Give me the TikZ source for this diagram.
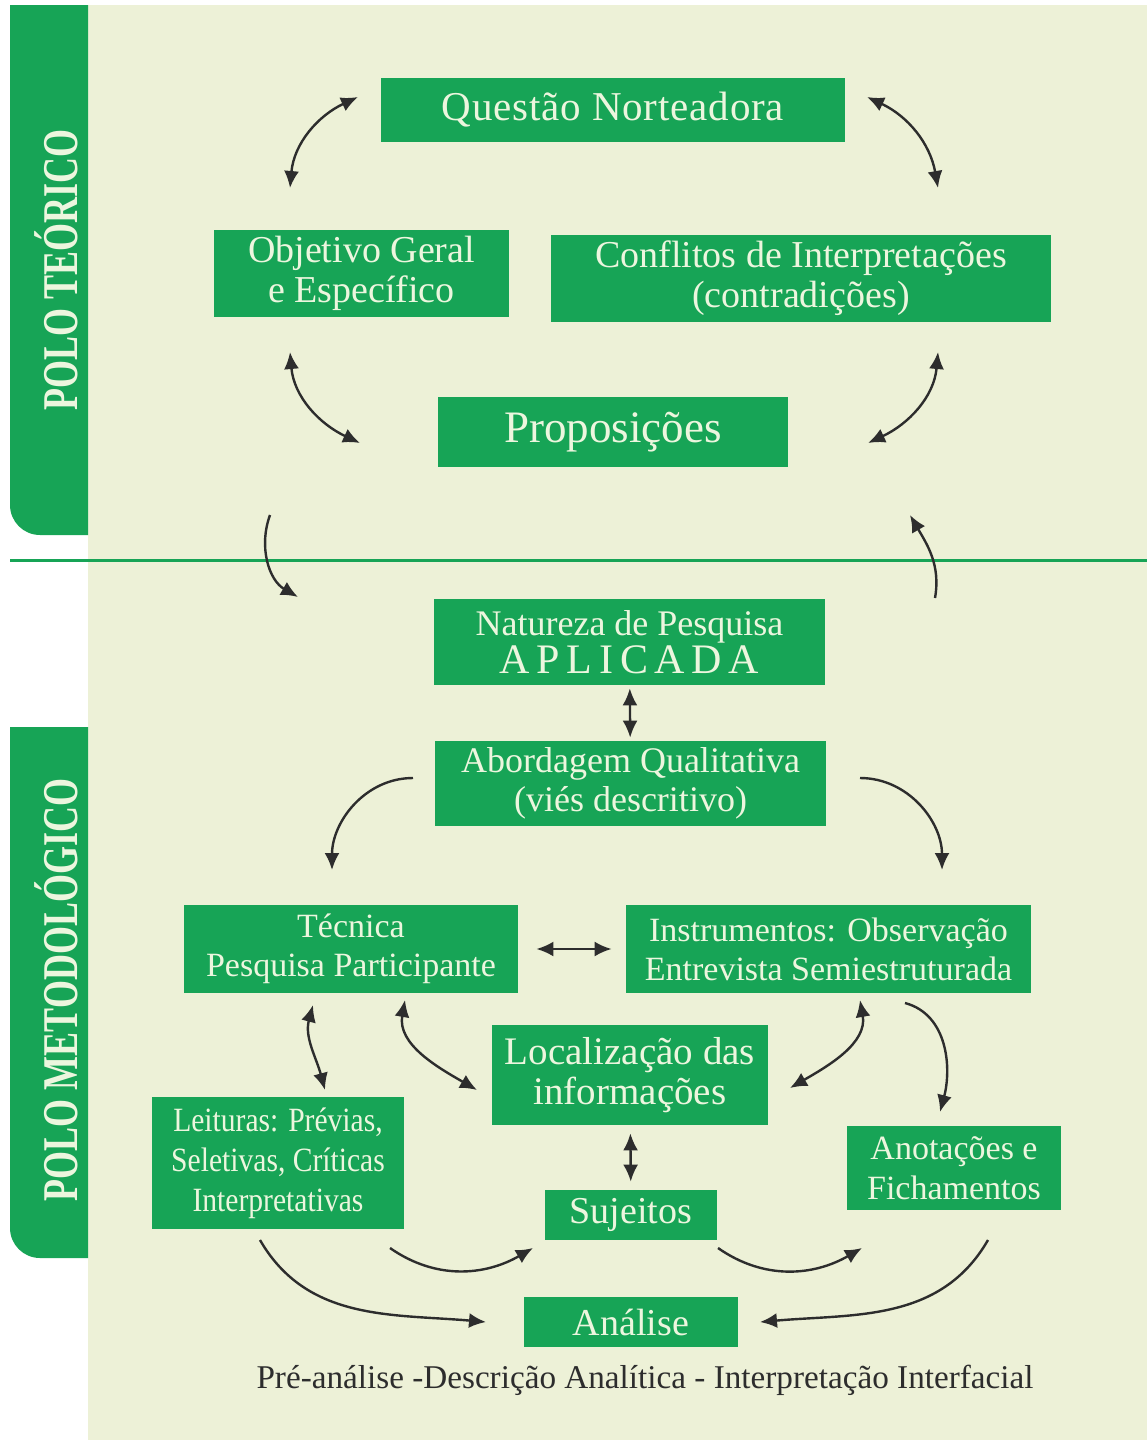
\documentclass[tikz,border=0pt]{standalone}
\usepackage{fontspec}
\setmainfont{Liberation Serif}
\newfontfamily\tabfont[FakeStretch=0.72]{Liberation Serif}
\newfontfamily\narrowfont[FakeStretch=0.87]{Liberation Serif}
\usetikzlibrary{arrows.meta}
\definecolor{boxgreen}{RGB}{23,164,86}
\definecolor{paper}{RGB}{237,241,215}
\definecolor{boxtext}{RGB}{236,246,222}
\definecolor{arrowgray}{RGB}{45,45,45}
\tikzset{>={Latex[length=8.5pt,width=7.5pt]}}
\tikzset{box/.style = {fill=boxgreen, text=boxtext, inner sep=0pt, align=center},
         link/.style = {draw=arrowgray, line width=1.2pt},
         tabtext/.style = {text=boxtext, rotate=90, font=\tabfont\bfseries\fontsize{25}{30}\selectfont}}

\begin{document}
\begin{tikzpicture}[x=0.5pt,y=0.5pt]
                    \useasboundingbox (0,0) rectangle (1147,-1440);
                    \fill[paper] (88,-5) rectangle (1147,-1440);
                    % side tabs
                    \fill[boxgreen] (88,-5) -- (10,-5) -- (10,-505) arc[start angle=180, end angle=270, radius=30] -- (88,-535) -- cycle;
                    \fill[boxgreen] (88,-727) -- (10,-727) -- (10,-1228) arc[start angle=180, end angle=270, radius=30] -- (88,-1258) -- cycle;
                    \node[tabtext] (poloT) at (56,-270) {POLO TEÓRICO};
                    \node[tabtext] (poloM) at (56,-990) {POLO METODOLÓGICO};
                    \draw[boxgreen, line width=1.5pt] (10,-560) -- (1147,-560);

                    % upper part
                    \node[box, minimum width=232pt, minimum height=32pt, font=\fontsize{20.5}{24}\selectfont\addfontfeature{LetterSpace=2}] (qn) at (613,-110) {Questão Norteadora};
                    \node[box, minimum width=147.5pt, minimum height=43.5pt, font=\fontsize{19}{20}\selectfont] (obj) at (361.5,-273.5) {Objetivo Geral\\e Específico};
                    \node[box, minimum width=250pt, minimum height=43.5pt, font=\fontsize{19}{20}\selectfont] (conf) at (801,-278.5) {Conflitos de Interpretações\\(contradições)};
                    \node[box, minimum width=175pt, minimum height=35pt, font=\fontsize{22.5}{26}\selectfont] (prop) at (613,-432) {Proposições};

                    % lower part
                    \node[box, minimum width=195.5pt, minimum height=43pt, font=\fontsize{18}{17}\selectfont] (nat) at (629.5,-642) {Natureza de Pesquisa\\{\fontsize{21}{21}\selectfont\addfontfeature{LetterSpace=16}APLICADA}};
                    \node[box, minimum width=195.5pt, minimum height=42.5pt, font=\fontsize{18}{19.5}\selectfont] (abo) at (630.5,-783.5) {Abordagem Qualitativa\\(viés descritivo)};
                    \node[box, minimum width=167pt, minimum height=44pt, font=\fontsize{17}{19.5}\selectfont] (tec) at (351,-949) {Técnica\\Pesquisa Participante};
                    \node[box, minimum width=202.5pt, minimum height=44pt, font=\fontsize{17}{19.5}\selectfont] (ins) at (828.5,-949) {Instrumentos: Observação\\Entrevista Semiestruturada};
                    \node[box, minimum width=138pt, minimum height=50pt, font=\fontsize{19.5}{20}\selectfont] (loc) at (630,-1075) {Localização das\\informações};
                    \node[box, minimum width=126pt, minimum height=66pt, font=\narrowfont\fontsize{17}{20}\selectfont] (lei) at (278,-1163) {Leituras: Prévias,\\Seletivas, Críticas\\Interpretativas};
                    \node[box, minimum width=86pt, minimum height=25pt, font=\fontsize{19}{20}\selectfont] (suj) at (631,-1215) {Sujeitos};
                    \node[box, minimum width=107pt, minimum height=42pt, font=\fontsize{17}{20}\selectfont] (ano) at (954,-1168) {Anotações e\\Fichamentos};
                    \node[box, minimum width=107pt, minimum height=25pt, font=\fontsize{19}{20}\selectfont] (ana) at (631,-1322) {Análise};
                    \node[text=arrowgray, font=\fontsize{16.6}{19}\selectfont] (fases) at (645,-1380) {Pré-análise -Descrição Analítica - Interpretação Interfacial};

                    % arrow ends
                    \coordinate (a1) at (290,-188); \coordinate (b1) at (358,-97);
                    \coordinate (a2) at (867,-97);  \coordinate (b2) at (938,-188);
                    \coordinate (a3) at (290,-352); \coordinate (b3) at (360,-443);
                    \coordinate (a4) at (938,-352); \coordinate (b4) at (868,-443);
                    \coordinate (a5) at (270,-515); \coordinate (b5) at (298,-597);
                    \coordinate (a6) at (935,-598); \coordinate (b6) at (910,-515);
                    \coordinate (a8) at (413,-778); \coordinate (b8) at (332,-870);
                    \coordinate (a9) at (860,-778); \coordinate (b9) at (942,-870);
                    \coordinate (a11) at (313,-1005); \coordinate (b11) at (325,-1090);
                    \coordinate (a12) at (405,-1000); \coordinate (b12) at (477,-1090);
                    \coordinate (a13) at (860,-1000); \coordinate (b13) at (790,-1088);
                    \coordinate (a14) at (905,-1003); \coordinate (b14) at (940,-1112);
                    \coordinate (a16) at (390,-1248); \coordinate (b16) at (533,-1248);
                    \coordinate (a17) at (718,-1248); \coordinate (b17) at (862,-1248);
                    \coordinate (a18) at (260,-1240); \coordinate (b18) at (486,-1322);
                    \coordinate (a19) at (988,-1240); \coordinate (b19) at (760,-1322);

                    \draw[link, <->] (a1) to[out=85, in=205] (b1);
                    \draw[link, <->] (a2) to[out=-25, in=100] (b2);
                    \draw[link, <->] (a3) to[out=-85, in=155] (b3);
                    \draw[link, <->] (a4) to[out=-95, in=25] (b4);
                    \draw[link, ->] (a5) to[out=-110, in=150] (b5);
                    \draw[link, ->] (a6) to[out=80, in=-60] (b6);
                    \draw[link, <->, shorten <=1.5pt, shorten >=1.5pt] (nat) -- (abo);
                    \draw[link, ->] (a8) to[out=180, in=90] (b8);
                    \draw[link, ->] (a9) to[out=0, in=90] (b9);
                    \draw[link, <->, shorten <=9pt, shorten >=7pt] (tec) -- (ins);
                    \draw[link, <->] (a11) to[out=-105, in=105] (b11);
                    \draw[link, <->] (a12) to[out=-100, in=150] (b12);
                    \draw[link, <->] (a13) to[out=-80, in=30] (b13);
                    \draw[link, ->] (a14) to[out=-15, in=75] (b14);
                    \draw[link, <->, shorten <=4pt, shorten >=4pt] (loc) -- (suj);
                    \draw[link, ->] (a16) to[out=-35, in=-150] (b16);
                    \draw[link, ->] (a17) to[out=-35, in=-150] (b17);
                    \draw[link, ->] (a18) to[out=-60, in=175] (b18);
                    \draw[link, ->] (a19) to[out=-120, in=5] (b19);
                \end{tikzpicture}
\end{document}
